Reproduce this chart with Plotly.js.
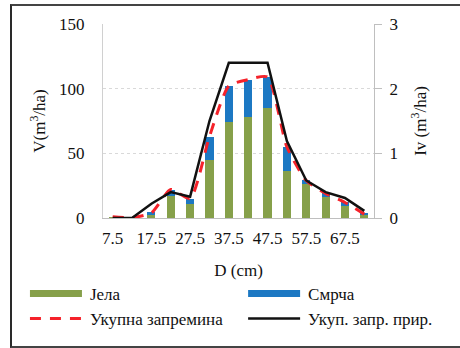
<!DOCTYPE html>
<html>
<head>
<meta charset="utf-8">
<script src="https://cdn.plot.ly/plotly-3.0.1.min.js"></script>
<style>
  html, body { margin: 0; padding: 0; background: #fff; }
  #wrap { position: relative; width: 460px; height: 348px; }
  #chart { width: 460px; height: 348px; }
  #frame { position: absolute; left: 10px; top: 4px; width: 460px; height: 340px;
           border-left: 2px solid #2a2a2a; border-top: 2px solid #444; border-bottom: 2px solid #444;
           pointer-events: none; }
</style>
</head>
<body>
<div id="wrap">
  <div id="chart"></div>
  <div id="frame"></div>
</div>
<script>
// Diameter classes (cm)
const diameters = ['7.5','12.5','17.5','22.5','27.5','32.5','37.5','42.5','47.5','52.5','57.5','62.5','67.5','72.5'];
const tickLabels = ['7.5','17.5','27.5','37.5','47.5','57.5','67.5'];
// Volume by species (m3/ha)
const jela   = [0.5, 0, 2.5, 17, 11, 45, 74, 78, 85, 36, 26, 16, 9.5, 2];
const smrca  = [0,   0, 2.5,  5,  4, 18, 28, 29, 24, 19,  3,  3, 2.5, 1.5];
// Total volume (m3/ha)
const ukupnaZapremina = [1, 0.3, 4, 22, 15, 63, 102, 107, 109, 55, 29, 19, 12, 3];
// Total volume increment (m3/ha)
const ukupPrir = [0, 0, 0.22, 0.40, 0.33, 1.5, 2.4, 2.4, 2.4, 1.19, 0.58, 0.40, 0.31, 0.11];

const serif = 'Liberation Serif';
const fs = 17;

const traces = [
  { type: 'bar', name: 'Јела', x: diameters, y: jela, marker: { color: '#86A04A' }, yaxis: 'y', legend: 'legend' },
  { type: 'bar', name: 'Смрча', x: diameters, y: smrca, marker: { color: '#1C78C3' }, yaxis: 'y', legend: 'legend2' },
  { type: 'scatter', mode: 'lines', name: 'Укупна запремина', x: diameters, y: ukupnaZapremina,
    line: { color: '#F5222A', width: 3, dash: '11px,9px', shape: 'spline', smoothing: 0.6 }, yaxis: 'y', legend: 'legend' },
  { type: 'scatter', mode: 'lines', name: 'Укуп. запр. прир.', x: diameters, y: ukupPrir,
    line: { color: '#111111', width: 2.5 }, yaxis: 'y2', legend: 'legend2' }
];

const legendBase = {
  orientation: 'v', yanchor: 'top', xanchor: 'left', traceorder: 'normal',
  itemwidth: 55, tracegroupgap: 0, bgcolor: 'rgba(0,0,0,0)',
  font: { family: serif, size: fs, color: '#111' }
};

const layout = {
  width: 460, height: 348,
  margin: { l: 103, r: 86, t: 24, b: 129 },
  paper_bgcolor: '#ffffff', plot_bgcolor: '#ffffff',
  font: { family: serif, size: fs, color: '#111' },
  barmode: 'stack',
  bargap: 0.58,
  showlegend: true,
  legend: Object.assign({}, legendBase, { x: -0.288, y: -0.292 }),
  legend2: Object.assign({}, legendBase, { x: 0.517, y: -0.292 }),
  xaxis: {
    type: 'category', tickmode: 'array', tickvals: tickLabels, ticktext: tickLabels,
    showline: true, linecolor: '#bfbfbf', linewidth: 1, ticks: '', showgrid: false,
    tickfont: { family: serif, size: fs, color: '#111' }, ticklabelstandoff: 5,
    title: { text: 'D (cm)', font: { family: serif, size: fs, color: '#111' }, standoff: 16 },
    automargin: false, fixedrange: true
  },
  yaxis: {
    range: [0, 150], tickvals: [0, 50, 100, 150], showline: true, linecolor: '#d0d0d0',
    showgrid: true, gridcolor: '#d9d9d9', griddash: 'dot', zeroline: false, ticks: '',
    tickfont: { family: serif, size: fs, color: '#111' }, ticklabelstandoff: 14,
    title: { text: 'V(m<sup>3</sup>/ha)', font: { family: serif, size: fs, color: '#111' }, standoff: 9 },
    automargin: false
  },
  yaxis2: {
    overlaying: 'y', side: 'right', range: [0, 3], tickvals: [0, 1, 2, 3],
    showline: true, linecolor: '#bfbfbf', showgrid: false, zeroline: false,
    ticks: 'outside', ticklen: 7, tickcolor: '#bfbfbf',
    tickfont: { family: serif, size: fs, color: '#111' }, ticklabelstandoff: 4,
    title: { text: 'Iv (m<sup>3</sup>/ha)', font: { family: serif, size: fs, color: '#111' }, standoff: 17 },
    automargin: false
  }
};

function offsetToTraces(node) {
  let tx = 0;
  let el = node;
  while (el && !(el.classList && el.classList.contains('traces'))) {
    const tr = el.getAttribute && el.getAttribute('transform');
    const m = tr && /translate\(\s*([-\d.]+)/.exec(tr);
    if (m) tx += parseFloat(m[1]);
    el = el.parentNode;
  }
  return tx;
}

function fixLegend() {
  document.querySelectorAll('g.traces').forEach(function (g) {
    const dat = g.__data__;
    const tr = dat && dat[0] && dat[0].trace;
    if (!tr) return;
    if (tr.type === 'bar') {
      g.querySelectorAll('.legendpoints path').forEach(function (p) {
        const tx = offsetToTraces(p);
        p.setAttribute('d', 'M' + (5 - tx) + ',-3.5h52v7h-52z');
      });
    } else {
      g.querySelectorAll('path').forEach(function (p) {
        const dd = p.getAttribute('d') || '';
        if (/^M5,0h[\d.]+$/.test(dd)) p.setAttribute('d', 'M5,0h52');
      });
    }
  });
}

const pr = Plotly.newPlot('chart', traces, layout, { displayModeBar: false, staticPlot: true });
fixLegend();
pr.then(function (gd) {
  fixLegend();
  gd.on('plotly_afterplot', fixLegend);
  setTimeout(fixLegend, 30);
  setTimeout(fixLegend, 200);
});
</script>
</body>
</html>
